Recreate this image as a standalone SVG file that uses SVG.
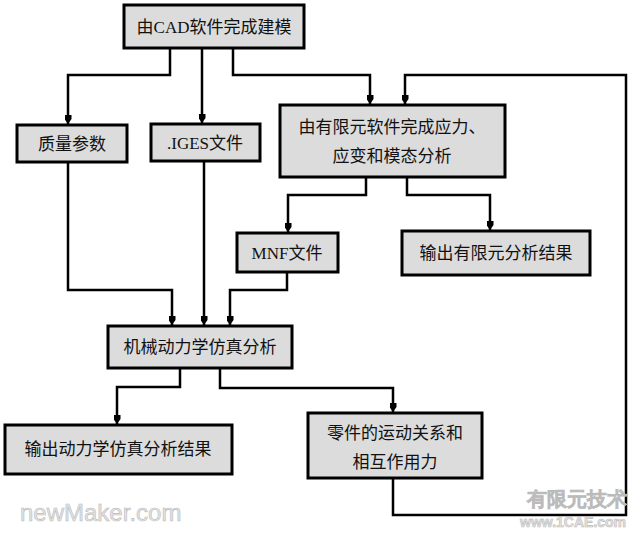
<svg xmlns="http://www.w3.org/2000/svg" width="640" height="533" viewBox="0 0 640 533">
<style>
.box{fill:#dcdcdc;stroke:#000;stroke-width:3}
.t{font-family:"Liberation Serif","Noto Sans CJK SC",serif;font-size:17px;fill:#111;text-anchor:middle}
.c{fill:none;stroke:#000;stroke-width:2.5}
.wm{font-family:"Liberation Sans",sans-serif;fill:#e4e4e4;stroke:#bbb;stroke-width:0.6}
</style>
<defs>
<marker id="a" markerWidth="9" markerHeight="7" refX="9" refY="3.5" orient="auto" markerUnits="userSpaceOnUse" viewBox="0 0 9 7">
<path d="M0,0 H4 L9,3.5 L4,7 H0 Z" fill="#000"/>
</marker>
</defs>
<rect width="640" height="533" fill="#fff"/>
<g id="connectors">
<path class="c" d="M170,48 V75 H68 V124" marker-end="url(#a)"/>
<path class="c" d="M202,48 V123" marker-end="url(#a)"/>
<path class="c" d="M233,48 V75 H370 V104" marker-end="url(#a)"/>
<path class="c" d="M393,478 V515 H626 V75 H405 V104" marker-end="url(#a)"/>
<path class="c" d="M366,177 V195 H288 V232" marker-end="url(#a)"/>
<path class="c" d="M407,177 V195 H490 V230" marker-end="url(#a)"/>
<path class="c" d="M68,162 V290 H172 V325" marker-end="url(#a)"/>
<path class="c" d="M204,161 V325" marker-end="url(#a)"/>
<path class="c" d="M287,272 V290 H230 V325" marker-end="url(#a)"/>
<path class="c" d="M180,368 V387 H117 V424" marker-end="url(#a)"/>
<path class="c" d="M220,368 V388 H393 V412" marker-end="url(#a)"/>
</g>
<g id="n1"><rect class="box" x="124" y="5" width="180" height="43"/><text class="t" x="214" y="33">由CAD软件完成建模</text></g>
<g id="n2"><rect class="box" x="17" y="125" width="110" height="37"/><text class="t" x="72" y="150">质量参数</text></g>
<g id="n3"><rect class="box" x="151" y="124" width="109" height="37"/><text class="t" x="205" y="149">.IGES文件</text></g>
<g id="n4"><rect class="box" x="280" y="105" width="225" height="72"/><text class="t" x="392" y="133">由有限元软件完成应力、</text><text class="t" x="392" y="162">应变和模态分析</text></g>
<g id="n5"><rect class="box" x="237" y="233" width="101" height="39"/><text class="t" x="287" y="259">MNF文件</text></g>
<g id="n6"><rect class="box" x="402" y="231" width="188" height="44"/><text class="t" x="496" y="259">输出有限元分析结果</text></g>
<g id="n7"><rect class="box" x="108" y="326" width="184" height="42"/><text class="t" x="200" y="353">机械动力学仿真分析</text></g>
<g id="n8"><rect class="box" x="5" y="425" width="227" height="49"/><text class="t" x="118" y="455">输出动力学仿真分析结果</text></g>
<g id="n9"><rect class="box" x="308" y="413" width="174" height="65"/><text class="t" x="395" y="439">零件的运动关系和</text><text class="t" x="395" y="468">相互作用力</text></g>
<g id="watermarks">
<text class="wm" x="20" y="521" font-size="24">newMaker.com</text>
<text class="wm" x="527" y="506" font-size="20" font-family="Noto Sans CJK SC,sans-serif" font-weight="bold">有限元技术</text>
<text class="wm" x="520" y="527" font-size="14" font-weight="bold">www.1CAE.com</text>
</g>
</svg>
